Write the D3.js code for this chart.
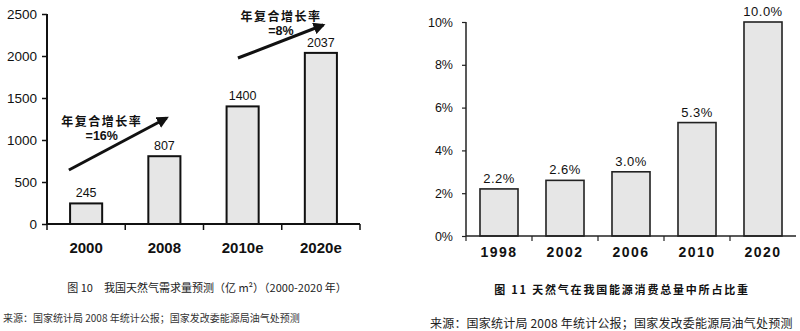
<!DOCTYPE html>
<html><head><meta charset="utf-8">
<script src="https://cdn.jsdelivr.net/npm/d3@7"></script>
<style>
html,body{margin:0;padding:0;background:#fff;}
svg{display:block;}
text{font-family:"Liberation Sans",Arial,sans-serif;}
.cjk{font-family:"Noto Sans CJK SC","Liberation Sans",sans-serif;}
</style></head>
<body>
<svg id="c" width="800" height="331"></svg>
<script>
// ---- Data: chart 1 (figure 10) ----
const demandCategories = ["2000", "2008", "2010e", "2020e"];
const demandValues = [245, 807, 1400, 2037];
const demandTicks = [0, 500, 1000, 1500, 2000, 2500];
// growth-rate annotations (band-unit x, value y)
const growthLabels = ["年复合增长率", "年复合增长率"];
const growthRates = ["=16%", "=8%"];
const growthArrowStart = [[0.28, 643], [2.44, 1976]];
const growthArrowEnd = [[1.53, 1262], [3.53, 2369]];
const growthTextPos = [[0.70, 1220], [2.99, 2460]];
const caption1 = "图 10\u2003我国天然气需求量预测（亿 m²）（2000-2020 年）";
const source1 = "来源：国家统计局 2008 年统计公报；国家发改委能源局油气处预测";

// ---- Data: chart 2 (figure 11) ----
const shareCategories = ["1998", "2002", "2006", "2010", "2020"];
const shareValues = [0.022, 0.026, 0.030, 0.053, 0.100];
const shareLabels = ["2.2%", "2.6%", "3.0%", "5.3%", "10.0%"];
const shareTicks = [0, 0.02, 0.04, 0.06, 0.08, 0.10];
const caption2 = "图 11 天然气在我国能源消费总量中所占比重";
const source2 = "来源：国家统计局 2008 年统计公报；国家发改委能源局油气处预测";

const svg = d3.select("#c");
const defs = svg.append("defs");
defs.append("marker").attr("id","ah").attr("viewBox","0 0 10 10")
  .attr("refX",8).attr("refY",5).attr("markerWidth",4).attr("markerHeight",4)
  .attr("orient","auto")
  .append("path").attr("d","M0,0 L10,5 L0,10 z").attr("fill","#111");

// ================= Chart 1 =================
{
  const x = d3.scaleBand().domain(demandCategories).range([47, 360])
    .paddingInner(0.59).paddingOuter(0.295);
  const y = d3.scaleLinear().domain([0, 2500]).range([224, 14]);
  const xu = u => x.range()[0] + u * x.step();
  const g = svg.append("g");

  g.selectAll("rect.bar").data(demandValues).join("rect")
    .attr("x",(d,i)=>x(demandCategories[i])).attr("width",x.bandwidth())
    .attr("y",d=>y(d)).attr("height",d=>y(0)-y(d))
    .attr("fill","#e6e6e6").attr("stroke","#111").attr("stroke-width",2);

  g.selectAll("text.val").data(demandValues).join("text")
    .attr("x",(d,i)=>x(demandCategories[i])+x.bandwidth()/2)
    .attr("y",d=>y(d)-6).attr("text-anchor","middle")
    .attr("font-size",12.5).attr("fill","#111").text(d=>d);

  // y axis
  const ya = g.append("g").attr("transform","translate(47,0)")
    .call(d3.axisLeft(y).tickValues(demandTicks).tickSize(5).tickPadding(5).tickFormat(d3.format("d")));
  ya.select(".domain").attr("stroke","#111").attr("stroke-width",2).attr("d",`M0,${y(2500)}V${y(0)}`);
  ya.selectAll(".tick line").attr("stroke","#111").attr("stroke-width",1.5);
  ya.selectAll("text").attr("font-size",13.5).attr("fill","#111")
    .style("font-family","'Liberation Sans',Arial,sans-serif");

  // x axis
  g.append("line").attr("x1",x.range()[0]).attr("x2",x.range()[1])
    .attr("y1",y(0)).attr("y2",y(0)).attr("stroke","#111").attr("stroke-width",2);
  g.selectAll("line.xt").data(d3.range(demandCategories.length+1)).join("line")
    .attr("x1",i=>xu(i)).attr("x2",i=>xu(i)).attr("y1",y(0)).attr("y2",y(0)+6)
    .attr("stroke","#111").attr("stroke-width",1.5);
  g.selectAll("text.cat").data(demandCategories).join("text")
    .attr("x",d=>x(d)+x.bandwidth()/2).attr("y",253).attr("text-anchor","middle")
    .attr("font-size",15).attr("font-weight","bold").attr("fill","#111").text(d=>d);

  // growth arrows
  growthArrowStart.forEach((s,i)=>{
    const e = growthArrowEnd[i];
    g.append("line").attr("x1",xu(s[0])).attr("y1",y(s[1]))
      .attr("x2",xu(e[0])).attr("y2",y(e[1]))
      .attr("stroke","#111").attr("stroke-width",3).attr("marker-end","url(#ah)");
    const t = growthTextPos[i];
    g.append("text").attr("class","cjk").attr("x",xu(t[0])).attr("y",y(t[1])+4)
      .attr("text-anchor","middle").attr("font-size",12).attr("font-weight","bold")
      .attr("letter-spacing",1.5).attr("fill","#111").text(growthLabels[i]);
    g.append("text").attr("x",xu(t[0])).attr("y",y(t[1])+18)
      .attr("text-anchor","middle").attr("font-size",12.5).attr("font-weight","bold")
      .attr("fill","#111").text(growthRates[i]);
  });

  g.append("text").attr("class","cjk").attr("x",207).attr("y",292).attr("text-anchor","middle")
    .attr("font-size",11).attr("fill","#222").text(caption1);
  g.append("text").attr("class","cjk").attr("x",3).attr("y",322)
    .attr("font-size",10).attr("fill","#333").text(source1);
}

// ================= Chart 2 =================
{
  const x = d3.scaleBand().domain(shareCategories).range([466, 796])
    .paddingInner(0.424).paddingOuter(0.212);
  const y = d3.scaleLinear().domain([0, 0.10]).range([236, 22]);
  const xu = u => x.range()[0] + u * x.step();
  const g = svg.append("g");

  g.selectAll("rect.bar").data(shareValues).join("rect")
    .attr("x",(d,i)=>x(shareCategories[i])).attr("width",x.bandwidth())
    .attr("y",d=>y(d)).attr("height",d=>y(0)-y(d))
    .attr("fill","#e6e6e6").attr("stroke","#222").attr("stroke-width",1.6);

  g.selectAll("text.val").data(shareValues).join("text")
    .attr("x",(d,i)=>x(shareCategories[i])+x.bandwidth()/2)
    .attr("y",d=>y(d)-6).attr("text-anchor","middle")
    .attr("font-size",13).attr("letter-spacing",0.5).attr("fill","#111")
    .text((d,i)=>shareLabels[i]);

  const ya = g.append("g").attr("transform","translate(466,0)")
    .call(d3.axisLeft(y).tickValues(shareTicks).tickSize(4).tickPadding(9).tickFormat(d3.format(".0%")));
  ya.select(".domain").attr("stroke","#222").attr("stroke-width",1.5).attr("d",`M0,${y(0.10)}V${y(0)}`);
  ya.selectAll(".tick line").attr("stroke","#222").attr("stroke-width",1.2);
  ya.selectAll("text").attr("font-size",12.5).attr("fill","#111")
    .style("font-family","'Liberation Sans',Arial,sans-serif");

  g.append("line").attr("x1",x.range()[0]).attr("x2",x.range()[1])
    .attr("y1",y(0)).attr("y2",y(0)).attr("stroke","#222").attr("stroke-width",1.5);
  g.selectAll("line.xt").data(d3.range(shareCategories.length)).join("line")
    .attr("x1",i=>xu(i)).attr("x2",i=>xu(i)).attr("y1",y(0)).attr("y2",y(0)+5)
    .attr("stroke","#222").attr("stroke-width",1.2);
  g.selectAll("text.cat").data(shareCategories).join("text")
    .attr("x",d=>x(d)+x.bandwidth()/2).attr("y",257).attr("text-anchor","middle")
    .attr("font-size",14).attr("font-weight","bold").attr("letter-spacing",1.5)
    .attr("fill","#111").text(d=>d);

  g.append("text").attr("class","cjk").attr("x",622).attr("y",294).attr("text-anchor","middle")
    .attr("font-size",11).attr("font-weight","bold").attr("letter-spacing",1.8)
    .attr("fill","#111").text(caption2);
  g.append("text").attr("class","cjk").attr("x",430).attr("y",328)
    .attr("font-size",12).attr("letter-spacing",0.2).attr("fill","#222").text(source2);
}
</script>
</body></html>
